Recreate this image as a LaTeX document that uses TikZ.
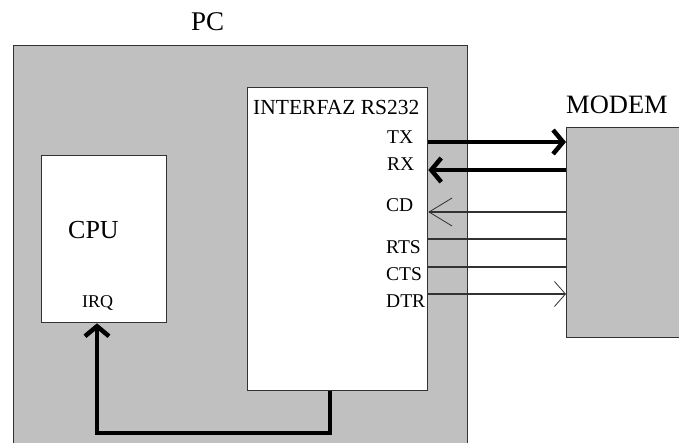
\documentclass[tikz,border=0pt]{standalone}
\usepackage{fontspec}
\setmainfont{Liberation Serif}
\usetikzlibrary{arrows.meta}
\definecolor{panel}{RGB}{192,192,192}
\definecolor{edge}{RGB}{50,50,50}

\begin{document}
\begin{tikzpicture}[x=1pt,y=1pt,yscale=-1,xscale=1,
  box/.style={draw=edge,line width=1.3pt,inner sep=0pt,anchor=north west},
  bus/.style={line width=4.5pt},
  wire/.style={draw=edge,line width=1.3pt},
  sig/.style={font=\fontsize{19.5}{19.5}\selectfont,inner sep=0pt,anchor=base west}]
\useasboundingbox (0,0) rectangle (679,442);
\clip (0,0) rectangle (679,442);

%Boxes
\node (pc) [box,fill=panel,minimum width=454pt,minimum height=410pt] at (13,45) {};
\node (iface) [box,fill=white,minimum width=180pt,minimum height=303pt] at (247,87) {};
\node (cpu) [box,fill=white,minimum width=125pt,minimum height=167pt] at (41,155) {};
\node (modem) [box,fill=panel,minimum width=130pt,minimum height=210pt] at (566,127) {};

% Text Node
\node (pclbl) [inner sep=0pt,anchor=base west,font=\fontsize{27}{27}\selectfont] at (191,30) {PC};
\node (modemlbl) [inner sep=0pt,anchor=base west,font=\fontsize{26.5}{26.5}\selectfont] at (566,113) {MODEM};
\node (ifacelbl) [inner sep=0pt,anchor=base west,font=\fontsize{21.5}{21.5}\selectfont] at (253,114) {INTERFAZ RS232};
\node (cpulbl) [inner sep=0pt,anchor=base west,font=\fontsize{26}{26}\selectfont] at (68,238) {CPU};
\node (irqlbl) [inner sep=0pt,anchor=base west,font=\fontsize{18}{18}\selectfont] at (82,307) {IRQ};
\node (txlbl) [sig] at (387,143) {TX};
\node (rxlbl) [sig] at (387,170) {RX};
\node (cdlbl) [sig] at (386,211) {CD};
\node (rtslbl) [sig] at (386,253) {RTS};
\node (ctslbl) [sig] at (386,280) {CTS};
\node (dtrlbl) [sig] at (386,307) {DTR};

%Signal lines
\draw [bus,-{Straight Barb[length=10pt,width=24pt]}] (iface.east |- 0,142) -- (modem.west |- 0,142);
\draw [bus,-{Straight Barb[length=10pt,width=24pt]}] (modem.west |- 0,170) -- (iface.east |- 0,170);
\draw [wire,-{Straight Barb[length=23pt,width=28pt,line width=0.8pt]}] (modem.west |- 0,212) -- (iface.east |- 0,212);
\draw [wire] (iface.east |- 0,239) -- (modem.west |- 0,239);
\draw [wire] (iface.east |- 0,267) -- (modem.west |- 0,267);
\draw [wire,-{Straight Barb[length=11pt,width=25pt,line width=0.8pt]}] (iface.east |- 0,294) -- (modem.west |- 0,294);

%IRQ line
\draw [bus,-{Straight Barb[length=10pt,width=24pt]}] (iface.south -| 330,0) -- (330,433) -| (cpu.south -| 97,0);
\end{tikzpicture}
\end{document}
